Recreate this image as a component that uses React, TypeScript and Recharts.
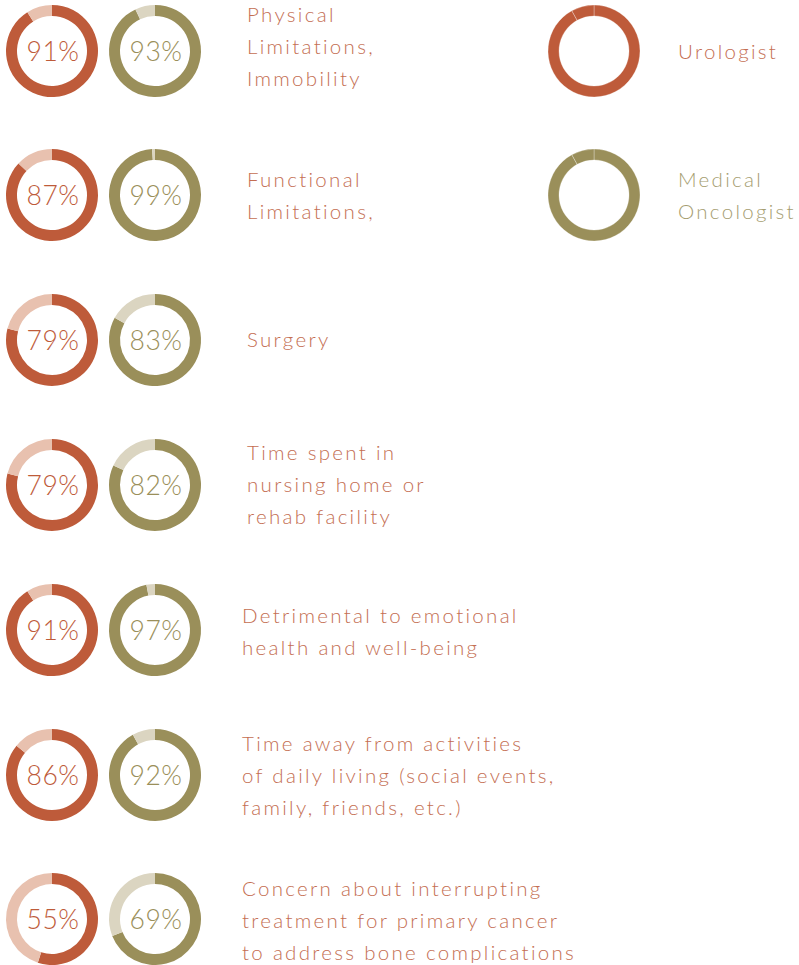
import React from "react";
import { PieChart, Pie, Cell } from "recharts";

const categories: string[][] = [
  ["Physical", "Limitations,", "Immobility"],
  ["Functional", "Limitations,"],
  ["Surgery"],
  ["Time spent in", "nursing home or", "rehab facility"],
  ["Detrimental to emotional", "health and well-being"],
  ["Time away from activities", "of daily living (social events,", "family, friends, etc.)"],
  ["Concern about interrupting", "treatment for primary cancer", "to address bone complications"],
];
const urologist = [91, 87, 79, 79, 91, 86, 55];
const oncologist = [93, 99, 83, 82, 97, 92, 69];
const legendNames: string[][] = [["Urologist"], ["Medical", "Oncologist"]];
const legendValue = 92;

const URO = "#BE5B3A";
const URO_LIGHT = "#E8C1AF";
const URO_TEXT = "#C46E52";
const ONC = "#9A8F5A";
const ONC_LIGHT = "#DBD5C1";
const ONC_TEXT = "#A59D70";

const W = 799;
const H = 965;
const rowY = [51, 195, 340, 485, 630, 775, 919];
const labelX = [247, 247, 247, 247, 242, 242, 242];
const labelShift = [-5, 0, -1, -1, 1, 0, 1];
const FONT = "Lato, 'Open Sans', sans-serif";

const donutData = (v: number) => [
  { name: "value", value: v },
  { name: "rest", value: 100 - v },
];

export default function App() {
  const pies: React.ReactNode[] = [];
  const texts: React.ReactNode[] = [];
  urologist.forEach((u, i) => {
    const o = oncologist[i];
    const cy = rowY[i];
    pies.push(
      <Pie
        key={`u${i}`}
        data={donutData(u)}
        dataKey="value"
        cx={52}
        cy={cy}
        innerRadius={35}
        outerRadius={46}
        startAngle={90}
        endAngle={-270}
        stroke="none"
        isAnimationActive={false}
      >
        <Cell fill={URO} />
        <Cell fill={URO_LIGHT} />
      </Pie>
    );
    pies.push(
      <Pie
        key={`o${i}`}
        data={donutData(o)}
        dataKey="value"
        cx={155}
        cy={cy}
        innerRadius={35}
        outerRadius={46}
        startAngle={90}
        endAngle={-270}
        stroke="none"
        isAnimationActive={false}
      >
        <Cell fill={ONC} />
        <Cell fill={ONC_LIGHT} />
      </Pie>
    );
    texts.push(
      <text key={`ut${i}`} x={53} y={cy + 9.5} textAnchor="middle" fill={URO} fontFamily={FONT} fontWeight={300} fontSize={26.5} letterSpacing={0.5}>
        {u}%
      </text>
    );
    texts.push(
      <text key={`ot${i}`} x={156} y={cy + 9.5} textAnchor="middle" fill={ONC} fontFamily={FONT} fontWeight={300} fontSize={26.5} letterSpacing={0.5}>
        {o}%
      </text>
    );
    const lines = categories[i];
    lines.forEach((ln, j) => {
      const lc = cy + labelShift[i] + (j - (lines.length - 1) / 2) * 32;
      texts.push(
        <text
          key={`l${i}-${j}`}
          x={labelX[i]}
          y={lc + 7.5}
          fill={URO_TEXT}
          fontFamily={FONT}
          fontWeight={300}
          fontSize={20.5}
          letterSpacing={2.3}
        >
          {ln}
        </text>
      );
    });
  });

  const legendColors = [URO, ONC];
  const legendText = [URO_TEXT, ONC_TEXT];
  legendNames.forEach((names, k) => {
    const cy = rowY[k];
    pies.push(
      <Pie
        key={`lg${k}`}
        data={donutData(legendValue)}
        dataKey="value"
        cx={594}
        cy={cy}
        innerRadius={35}
        outerRadius={46}
        startAngle={90}
        endAngle={-270}
        stroke="rgba(255,255,255,0.5)"
        strokeWidth={0.6}
        isAnimationActive={false}
      >
        <Cell fill={legendColors[k]} />
        <Cell fill={legendColors[k]} />
      </Pie>
    );
    names.forEach((ln, j) => {
      const lc = cy + (j - (names.length - 1) / 2) * 32;
      texts.push(
        <text
          key={`lt${k}-${j}`}
          x={678}
          y={lc + 7.5}
          fill={legendText[k]}
          fontFamily={FONT}
          fontWeight={300}
          fontSize={20.5}
          letterSpacing={2.3}
        >
          {ln}
        </text>
      );
    });
  });

  return (
    <div style={{ position: "absolute", left: 0, top: 0, width: W, height: H, background: "#fff" }}>
      <PieChart width={W} height={H} margin={{ top: 0, right: 0, bottom: 0, left: 0 }}>
        {pies}
        {texts}
      </PieChart>
    </div>
  );
}
